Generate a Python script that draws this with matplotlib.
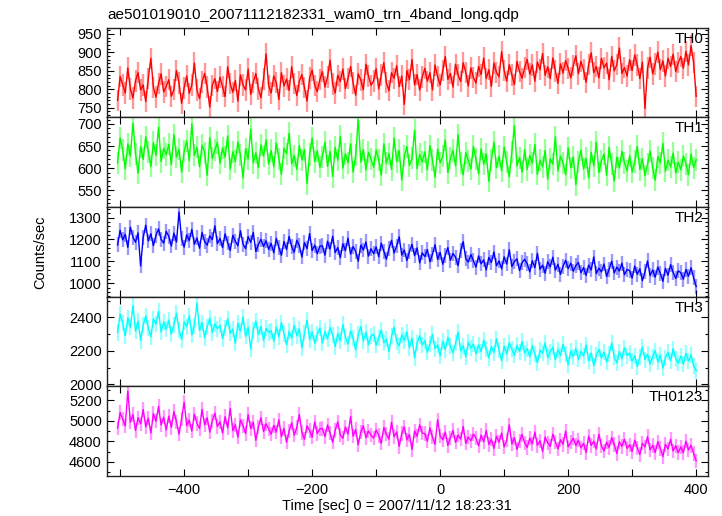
import numpy as np
import matplotlib
matplotlib.use("Agg")
import matplotlib.pyplot as plt
from matplotlib.ticker import MultipleLocator, FuncFormatter
from matplotlib.colors import to_rgba

plt.rcParams['font.family'] = ['Liberation Sans', 'DejaVu Sans']

# time range of the light curve (sec)
t_first, t_last = -504, 400

th0 = [770, 835, 812, 790, 858, 801, 776, 823, 845, 798, 812, 767, 830, 884, 805, 779, 816, 842, 793, 808,
       826, 781, 799, 851, 817, 762, 804, 836, 789, 812, 871, 798, 775, 820, 843, 806, 752, 811, 829, 794,
       833, 807, 780, 861, 815, 792, 824, 768, 839, 812, 798, 855, 786, 819, 843, 801, 777, 828, 896, 810,
       790, 836, 818, 772, 845, 809, 828, 797, 861, 815, 783, 822, 840, 805, 768, 831, 852, 811, 794, 826,
       848, 806, 833, 879, 814, 790, 838, 821, 855, 802, 829, 862, 817, 784, 842, 825, 799, 868, 836, 811,
       823, 856, 801, 839, 872, 818, 796, 845, 830, 864, 807, 836, 759, 851, 826, 881, 812, 840, 798, 833,
       857, 822, 845, 798, 866, 834, 812, 851, 889, 827, 843, 806, 868, 839, 821, 872, 846, 809, 858, 832,
       817, 862, 840, 885, 829, 853, 808, 871, 846, 834, 902, 851, 822, 867, 839, 813, 876, 848, 830, 859,
       881, 841, 866, 822, 874, 853, 897, 838, 861, 829, 885, 850, 816, 869, 844, 878, 857, 831, 864, 891,
       842, 876, 853, 819, 867, 899, 845, 862, 831, 884, 858, 871, 826, 889, 850, 867, 912, 843, 859, 836,
       880, 851, 893, 866, 829, 874, 748, 858, 887, 842, 869, 901, 853, 877, 836, 884, 862, 895, 848, 872,
       889, 857, 903, 866, 918, 872, 781]

th1 = [612, 668, 641, 598, 655, 627, 702, 633, 589, 649, 620, 671, 637, 604, 658, 629, 693, 615, 645, 631,
       654, 608, 676, 625, 643, 591, 638, 662, 617, 700, 629, 647, 603, 652, 635, 584, 669, 622, 641, 658,
       611, 646, 625, 673, 598, 637, 615, 659, 630, 578, 644, 621, 688, 612, 635, 601, 653, 627, 664, 609,
       640, 603, 657, 621, 586, 645, 633, 679, 610, 628, 597, 651, 619, 642, 565, 631, 668, 615, 639, 602,
       626, 659, 604, 638, 581, 647, 618, 672, 600, 633, 612, 655, 591, 629, 710, 614, 642, 596, 636, 621,
       602, 641, 619, 584, 655, 611, 633, 597, 668, 615, 640, 573, 627, 649, 606, 622, 686, 599, 631, 614,
       637, 596, 651, 618, 579, 643, 612, 627, 664, 590, 622, 640, 605, 676, 611, 585, 635, 617, 598, 649,
       620, 587, 644, 609, 632, 570, 618, 659, 601, 627, 594, 648, 613, 580, 637, 696, 605, 624, 591, 642,
       597, 629, 612, 654, 586, 618, 603, 640, 575, 621, 609, 671, 594, 627, 612, 585, 646, 601, 625, 563,
       614, 641, 598, 622, 578, 636, 605, 659, 590, 617, 632, 584, 647, 609, 571, 625, 600, 638, 612, 594,
       628, 591, 615, 649, 597, 621, 583, 609, 639, 600, 573, 626, 612, 656, 593, 618, 603, 634, 589, 614,
       596, 627, 610, 585, 632, 601, 619]

th2 = [1175, 1242, 1198, 1223, 1164, 1256, 1211, 1187, 1230, 1079, 1208, 1265, 1193, 1226, 1172, 1219, 1248, 1201, 1183, 1237,
       1214, 1170, 1229, 1188, 1325, 1203, 1165, 1221, 1195, 1246, 1178, 1207, 1160, 1232, 1190, 1174, 1216, 1199, 1262, 1181,
       1205, 1163, 1226, 1184, 1150, 1219, 1192, 1171, 1240, 1179, 1158, 1213, 1187, 1232, 1145, 1176, 1201, 1168, 1194, 1155,
       1182, 1139, 1205, 1163, 1128, 1191, 1154, 1214, 1167, 1142, 1196, 1171, 1120, 1186, 1158, 1227, 1149, 1174, 1135, 1169,
       1171, 1128, 1192, 1156, 1215, 1140, 1163, 1117, 1180, 1149, 1206, 1133, 1168, 1145, 1101, 1174, 1152, 1189, 1124, 1158,
       1135, 1166, 1121, 1183, 1147, 1110, 1159, 1196, 1138, 1170, 1212, 1129, 1152, 1104, 1145, 1178, 1126, 1161, 1093, 1139,
       1122, 1154, 1098, 1133, 1176, 1109, 1141, 1087, 1128, 1163, 1105, 1136, 1119, 1081, 1148, 1190, 1112, 1097, 1131, 1103,
       1074, 1125, 1089, 1107, 1061, 1118, 1095, 1143, 1080, 1102, 1066, 1121, 1088, 1153, 1077, 1099, 1112, 1058, 1094, 1110,
       1089, 1052, 1103, 1071, 1137, 1064, 1083, 1046, 1098, 1075, 1119, 1060, 1087, 1041, 1078, 1105, 1067, 1092, 1055, 1081,
       1095, 1048, 1072, 1036, 1083, 1061, 1120, 1044, 1069, 1052, 1088, 1031, 1065, 1101, 1047, 1074, 1056, 1092, 1039, 1063,
       1058, 1024, 1079, 1041, 1066, 1012, 1053, 1102, 1035, 1061, 1028, 1074, 1046, 1009, 1068, 1037, 1085, 1050, 1022, 1057,
       1048, 1019, 1063, 1032, 1071, 1025, 985]

th3 = [2310, 2420, 2365, 2290, 2398, 2341, 2470, 2318, 2377, 2262, 2352, 2409, 2335, 2284, 2391, 2360, 2437, 2313, 2372, 2329,
       2384, 2301, 2356, 2425, 2327, 2268, 2372, 2345, 2410, 2296, 2351, 2485, 2322, 2368, 2279, 2343, 2396, 2310, 2361, 2333,
       2352, 2274, 2338, 2391, 2305, 2329, 2245, 2364, 2318, 2402, 2287, 2341, 2211, 2326, 2379, 2298, 2345, 2263, 2334, 2310,
       2321, 2258, 2343, 2284, 2369, 2302, 2237, 2316, 2277, 2352, 2291, 2330, 2219, 2305, 2384, 2268, 2312, 2246, 2299, 2337,
       2248, 2316, 2271, 2340, 2295, 2226, 2303, 2262, 2358, 2283, 2241, 2319, 2276, 2205, 2298, 2345, 2259, 2312, 2237, 2289,
       2301, 2233, 2279, 2325, 2248, 2270, 2196, 2287, 2342, 2255, 2231, 2296, 2262, 2314, 2219, 2276, 2158, 2248, 2290, 2237,
       2262, 2191, 2243, 2298, 2214, 2236, 2170, 2259, 2208, 2281, 2227, 2189, 2245, 2312, 2201, 2230, 2164, 2252, 2217, 2240,
       2183, 2237, 2196, 2264, 2212, 2158, 2225, 2190, 2271, 2203, 2141, 2228, 2181, 2249, 2210, 2174, 2233, 2196, 2256, 2187,
       2213, 2165, 2231, 2179, 2130, 2204, 2186, 2248, 2161, 2195, 2222, 2147, 2208, 2173, 2239, 2183, 2118, 2199, 2166, 2215,
       2150, 2198, 2169, 2235, 2141, 2187, 2112, 2176, 2210, 2158, 2193, 2134, 2181, 2247, 2163, 2128, 2196, 2154, 2219, 2171,
       2187, 2139, 2171, 2106, 2163, 2224, 2148, 2180, 2122, 2166, 2201, 2135, 2174, 2097, 2159, 2192, 2141, 2213, 2153, 2127,
       2168, 2121, 2185, 2139, 2176, 2110, 2082]

th0123 = [4930, 5080, 5015, 4950, 5290, 4985, 5060, 4905, 5030, 4970, 5110, 4940, 5025, 4880, 5070, 4995, 5140, 4960, 5035, 4910,
          5045, 4935, 5090, 4990, 4870, 5020, 5180, 4955, 5005, 4900, 5065, 4975, 4925, 5110, 4960, 5030, 4890, 5000, 5075, 4945,
          4990, 4880, 5040, 4930, 5120, 4905, 4960, 4840, 5010, 4950, 4875, 5060, 4925, 4985, 4810, 4940, 5030, 4895, 4970, 4920,
          4870, 4955, 4890, 5010, 4845, 4925, 4790, 4900, 4980, 4860, 4935, 5060, 4885, 4820, 4950, 4905, 4840, 4990, 4875, 4920,
          4925, 4845, 4960, 4880, 4790, 4905, 4990, 4860, 4830, 4940, 4870, 5040, 4850, 4915, 4765, 4890, 4950, 4835, 4900, 4860,
          4830, 4910, 4855, 4780, 4935, 4870, 4820, 4985, 4845, 4890, 4750, 4875, 4940, 4815, 4865, 4720, 4900, 4850, 4960, 4880,
          4875, 4800, 4930, 4840, 4770, 5010, 4850, 4815, 4890, 4760, 4835, 4905, 4790, 4860, 4820, 4945, 4780, 4840, 4805, 4870,
          4830, 4755, 4860, 4795, 4905, 4770, 4820, 4730, 4850, 4790, 4880, 4745, 4810, 4960, 4775, 4835, 4720, 4800, 4865, 4785,
          4740, 4830, 4775, 4890, 4760, 4805, 4700, 4840, 4785, 4750, 4870, 4795, 4725, 4815, 4770, 4900, 4745, 4790, 4830, 4760,
          4810, 4735, 4780, 4690, 4850, 4760, 4800, 4725, 4870, 4755, 4705, 4790, 4740, 4835, 4770, 4680, 4795, 4750, 4820, 4730,
          4765, 4700, 4810, 4735, 4670, 4780, 4745, 4845, 4715, 4760, 4690, 4795, 4730, 4650, 4770, 4725, 4820, 4705, 4755, 4690,
          4745, 4690, 4800, 4715, 4760, 4680, 4610]

series = [th0, th1, th2, th3, th0123]
names = ["TH0", "TH1", "TH2", "TH3", "TH0123"]
errors = [29, 25, 34, 48, 70]
colors = ["#ff0000", "#00ff00", "#0000ff", "#00ffff", "#ff00ff"]
ylims = [(724, 967), (512, 715), (939, 1348), (1988, 2524), (4461, 5336)]
ymajor = [50, 50, 100, 200, 200]
yminor = [10, 10, 20, 100, 100]

title = "ae501019010_20071112182331_wam0_trn_4band_long.qdp"
xlabel = "Time [sec] 0 = 2007/11/12 18:23:31"
ylabel = "Counts/sec"

W, H = 722, 516
fig = plt.figure(figsize=(W / 100, H / 100), dpi=100)
axes = fig.subplots(5, 1, sharex=True)
fig.subplots_adjust(left=106.7 / W, right=707.7 / W, top=1 - 27.7 / H,
                    bottom=1 - 476 / H, hspace=0)

fs = 10.5

def xfmt(v, pos):
    iv = int(round(v))
    if iv % 200 != 0:
        return ""
    return str(iv).replace("-", "\u2212")

for ax, vals, name, err, col, yl, ym, yn in zip(axes, series, names, errors, colors,
                                                 ylims, ymajor, yminor):
    v = np.asarray(vals, dtype=float)
    t = np.linspace(t_first, t_last, len(v))
    ax.errorbar(t, v, yerr=err, fmt='-', color=col, lw=1.0,
                ecolor=to_rgba(col, 0.4), elinewidth=1.7, capsize=0)
    ax.set_xlim(-521, 418)
    ax.set_ylim(*yl)
    ax.yaxis.set_major_locator(MultipleLocator(ym))
    ax.yaxis.set_minor_locator(MultipleLocator(yn))
    ax.xaxis.set_major_locator(MultipleLocator(100))
    ax.xaxis.set_major_formatter(FuncFormatter(xfmt))
    ax.tick_params(axis='both', which='both', direction='in', top=True, right=True,
                   labelsize=fs, colors='black', width=0.8)
    ax.tick_params(axis='both', which='major', length=5)
    ax.tick_params(axis='y', which='minor', length=2.5)
    ax.tick_params(axis='x', which='major', pad=5)
    for sp in ax.spines.values():
        sp.set_linewidth(1.0)
        sp.set_color('#222222')
    ax.text(0.993, 0.955, name, transform=ax.transAxes, ha='right', va='top',
            fontsize=11, color='black')

for ax in axes[:-1]:
    ax.tick_params(axis='x', labelbottom=False)

fig.text(107 / W, 1 - 15 / H, title, ha='left', va='center', fontsize=11)
fig.text(397 / W, 1 - 506 / H, xlabel, ha='center', va='center', fontsize=fs)
fig.text(40 / W, 1 - 252 / H, ylabel, ha='center', va='center', rotation=90, fontsize=fs)

fig.savefig("out.png", dpi=100)
